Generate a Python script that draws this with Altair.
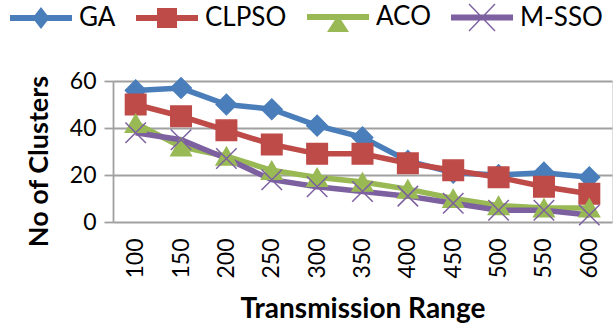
import altair as alt
import pandas as pd

ranges = ["100", "150", "200", "250", "300", "350", "400", "450", "500", "550", "600"]
series_names = ["GA", "CLPSO", "ACO", "M-SSO"]
ga = [56, 57, 50, 48, 41, 36, 26, 21, 20, 21, 19]
clpso = [50, 45, 39, 33, 29, 29, 25, 22, 19, 15, 12]
aco = [42, 32, 28, 22, 19, 17, 14, 10, 7, 6, 6]
msso = [38, 35, 27, 18, 15, 13, 11, 8, 5, 5, 3]
colors = ["#4A7EBB", "#BE4B48", "#98B954", "#7D60A0"]
y_ticks = [0, 20, 40, 60]

rows = []
for name, vals in zip(series_names, [ga, clpso, aco, msso]):
    for r, v in zip(ranges, vals):
        rows.append({"range": r, "series": name, "value": v})
df = pd.DataFrame(rows)

marker_shapes = ["diamond", "square", "triangle-up", "M-1,-1L1,1M-1,1L1,-1"]

line_part = "M-3.1,-0.3H3.1V0.3H-3.1Z"
legend_shapes = [
    line_part + "M0,-1.1L0.85,0L0,1.1L-0.85,0Z",
    line_part + "M-1,-1H1V1H-1Z",
    line_part + "M0,-0.2L1.1,1.5H-1.1Z",
    line_part + "M-1.25,-1.4L1.35,1.3L1.25,1.4L-1.35,-1.3ZM1.25,-1.4L1.35,-1.3L-1.25,1.4L-1.35,1.3Z",
]

FONT = "Lato"

x_enc = alt.X(
    "range:O",
    sort=ranges,
    title="Transmission Range",
    axis=alt.Axis(
        labelAngle=-90, ticks=False, domain=False, labelPadding=16,
        labelFontSize=23, titleFontSize=28, titleFontWeight="bold",
        titlePadding=17, labelColor="#000", titleColor="#000",
    ),
)
y_enc = alt.Y(
    "value:Q",
    title="No of Clusters",
    scale=alt.Scale(domain=[0, 60], nice=False),
    axis=alt.Axis(
        values=y_ticks, grid=True, gridColor="#A0A0A0", gridWidth=1.8,
        domain=True, domainColor="#A0A0A0", domainWidth=1.8,
        tickColor="#A0A0A0", tickWidth=1.8, tickSize=9, labelPadding=8,
        labelFontSize=23, titleFontSize=27, titleFontWeight="bold",
        titlePadding=16, titleY=80, labelColor="#000", titleColor="#000",
    ),
)

color_scale = alt.Scale(domain=series_names, range=colors)

lines = alt.Chart(df).mark_line(strokeWidth=5.5).encode(
    x=x_enc,
    y=y_enc,
    color=alt.Color("series:N", scale=color_scale, legend=None),
    detail="series:N",
)

points = alt.Chart(df).mark_point(filled=True, size=420, opacity=1, strokeWidth=1.5).encode(
    x=x_enc,
    y=y_enc,
    fill=alt.Fill("series:N", scale=color_scale, legend=None),
    stroke=alt.Stroke("series:N", scale=color_scale, legend=None),
    shape=alt.Shape(
        "series:N", scale=alt.Scale(domain=series_names, range=marker_shapes),
        legend=None,
    ),
)

legend_props = dict(
    orient="none", direction="horizontal", legendX=-85, legendY=-77,
    symbolSize=400, symbolStrokeWidth=0, symbolOpacity=1,
    labelFontSize=26, labelFont=FONT,
    labelOffset=25, columnPadding=20, labelColor="#000",
)

legend_layer = alt.Chart(df).mark_point(filled=True, size=0, opacity=0).encode(
    x=x_enc,
    y=y_enc,
    fill=alt.Fill("series:N", scale=color_scale, title=None,
                  legend=alt.Legend(**legend_props)),
    shape=alt.Shape(
        "series:N", scale=alt.Scale(domain=series_names, range=legend_shapes),
        title=None, legend=alt.Legend(**legend_props),
    ),
)

chart = (
    alt.layer(lines, points, legend_layer)
    .resolve_scale(shape="independent", fill="independent")
    .properties(
        width=499, height=141,
        autosize=alt.AutoSizeParams(type="none"),
        padding={"left": 113, "top": 81, "right": 2, "bottom": 112},
    )
    .configure_view(stroke=None)
    .configure(font=FONT, background="white")
)

chart.save("out.html", embed_options={"renderer": "svg", "actions": False})
